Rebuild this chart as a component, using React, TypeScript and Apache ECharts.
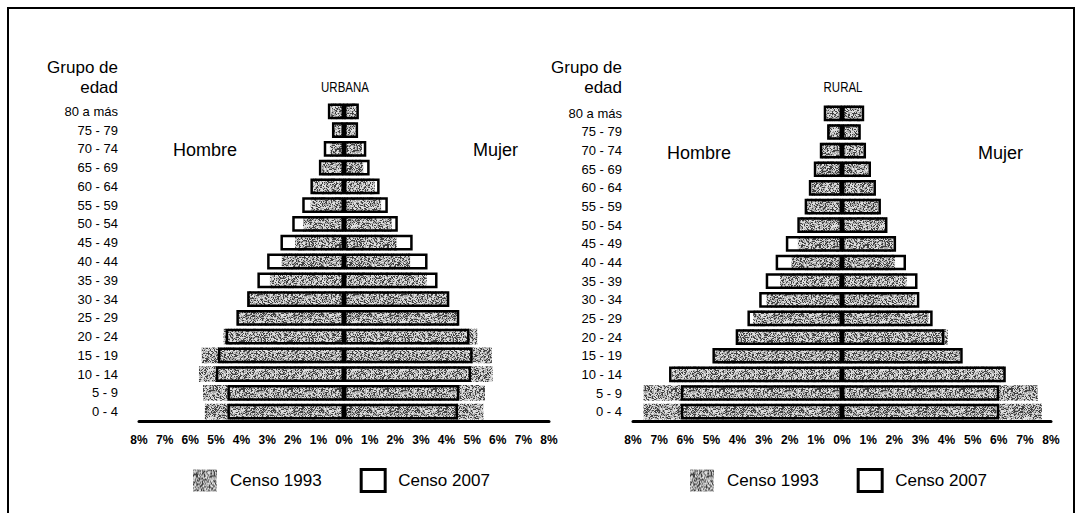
import React, { useEffect, useRef } from "react";
import * as echarts from "echarts";

const categories = ["0 - 4", "5 - 9", "10 - 14", "15 - 19", "20 - 24", "25 - 29", "30 - 34", "35 - 39", "40 - 44", "45 - 49", "50 - 54", "55 - 59", "60 - 64", "65 - 69", "70 - 74", "75 - 79", "80 a más"];

// Urbana (percent of population), bottom (0-4) to top (80+)
const urbanMale1993 = [5.43, 5.5, 5.66, 5.55, 4.7, 4.15, 3.75, 2.89, 2.43, 1.91, 1.6, 1.3, 1.2, 0.85, 0.55, 0.45, 0.5];
const urbanFemale1993 = [5.44, 5.5, 5.8, 5.77, 5.2, 4.45, 4.05, 3.23, 2.58, 2.06, 1.86, 1.45, 1.2, 0.75, 0.7, 0.45, 0.5];
const urbanMale2007 = [4.55, 4.55, 5.0, 4.92, 4.62, 4.2, 3.78, 3.38, 3.0, 2.48, 2.02, 1.63, 1.31, 0.98, 0.79, 0.47, 0.63];
const urbanFemale2007 = [4.45, 4.5, 4.96, 5.02, 4.9, 4.5, 4.11, 3.65, 3.26, 2.68, 2.1, 1.71, 1.39, 1.0, 0.87, 0.55, 0.58];

// Rural
const ruralMale1993 = [7.6, 7.6, 6.5, 4.87, 4.03, 3.4, 2.89, 2.37, 1.93, 1.69, 1.61, 1.35, 1.16, 0.97, 0.78, 0.5, 0.6];
const ruralFemale1993 = [7.65, 7.5, 6.2, 4.52, 4.05, 3.31, 2.8, 2.48, 2.03, 1.97, 1.71, 1.39, 1.2, 1.01, 0.82, 0.65, 0.75];
const ruralMale2007 = [6.17, 6.17, 6.62, 4.96, 4.07, 3.62, 3.17, 2.92, 2.54, 2.15, 1.71, 1.43, 1.27, 1.08, 0.85, 0.57, 0.7];
const ruralFemale2007 = [6.02, 6.02, 6.27, 4.62, 3.92, 3.47, 2.96, 2.89, 2.45, 2.07, 1.74, 1.49, 1.3, 1.11, 0.92, 0.72, 0.85];

const xTicks = { min: -8, max: 8, interval: 1 };

const FONT = "'Liberation Sans', Arial, Helvetica, sans-serif";

function hash(x: number, y: number) {
  let n = Math.imul(x, 374761393) + Math.imul(y, 668265263);
  n = Math.imul(n ^ (n >>> 13), 1274126177);
  n = n ^ (n >>> 16);
  return (n >>> 0) / 4294967296;
}

function makePattern() {
  const c = document.createElement("canvas");
  const s = 48;
  c.width = s;
  c.height = s;
  const ctx = c.getContext("2d");
  if (!ctx) return "#929292";
  const img = ctx.createImageData(s, s);
  for (let y = 0; y < s; y++) {
    for (let x = 0; x < s; x++) {
      const h = hash(x, y);
      const v = h < 0.3 ? 65 : h < 0.66 ? 168 : 222;
      const i = (y * s + x) * 4;
      img.data[i] = v;
      img.data[i + 1] = v;
      img.data[i + 2] = v;
      img.data[i + 3] = 255;
    }
  }
  ctx.putImageData(img, 0, 0);
  return { image: c, repeat: "repeat" } as any;
}

export default function App() {
  const ref = useRef<HTMLDivElement>(null);
  useEffect(() => {
    if (!ref.current) return;
    const chart = echarts.init(ref.current, undefined, { renderer: "svg" });
    const pattern = makePattern();
    const neg = (a: number[]) => a.map((v) => -v);

    const grids = [
      { left: 139, top: 102, width: 410, height: 319 },
      { left: 633, top: 104, width: 418, height: 317 },
    ];
    const labelMargins = [21, 11];

    const xAxis = grids.map((_, i) => ({
      type: "value",
      gridIndex: i,
      ...xTicks,
      axisLine: { show: true, onZero: false, lineStyle: { color: "#000", width: 3 } },
      axisTick: { show: false },
      splitLine: { show: false },
      axisLabel: {
        formatter: (v: number) => Math.abs(v) + "%",
        color: "#000",
        fontSize: 12,
        fontWeight: "bold",
        fontFamily: FONT,
        margin: 13,
      },
    }));
    const yAxis = grids.map((_, i) => ({
      type: "category",
      gridIndex: i,
      data: categories,
      axisLine: { show: false },
      axisTick: { show: false },
      splitLine: { show: false },
      axisLabel: { color: "#000", fontSize: 13, fontFamily: FONT, margin: labelMargins[i] },
    }));

    const outline = { color: "rgba(0,0,0,0)", borderColor: "#000", borderWidth: 2.5 };
    const mk = (i: number, name: string, data: number[], style: any) => ({
      type: "bar",
      name,
      xAxisIndex: i,
      yAxisIndex: i,
      data,
      barGap: "-100%",
      barCategoryGap: "16%",
      itemStyle: style,
      emphasis: { disabled: true },
    });
    const series = [
      mk(0, "Censo 1993", neg(urbanMale1993), { color: pattern }),
      mk(0, "Censo 1993", urbanFemale1993, { color: pattern }),
      mk(0, "Censo 2007", neg(urbanMale2007), outline),
      mk(0, "Censo 2007", urbanFemale2007, outline),
      mk(1, "Censo 1993", neg(ruralMale1993), { color: pattern }),
      mk(1, "Censo 1993", ruralFemale1993, { color: pattern }),
      mk(1, "Censo 2007", neg(ruralMale2007), outline),
      mk(1, "Censo 2007", ruralFemale2007, outline),
    ];

    const legendBase = (left: number) => ({
      left,
      top: 468,
      padding: 0,
      orient: "horizontal",
      itemWidth: 24,
      itemHeight: 22,
      itemGap: 38,
      selectedMode: false,
      icon: "rect",
      textStyle: { fontSize: 17, color: "#000", fontFamily: FONT, padding: [0, 0, 0, 8] },
      data: [
        { name: "Censo 1993", itemStyle: { color: pattern, borderWidth: 0 } },
        { name: "Censo 2007", itemStyle: { color: "#fff", borderColor: "#000", borderWidth: 3 } },
      ],
    });

    const txt = (text: string, x: number, y: number, align: string, fontSize: number, extra: any = {}) => ({
      type: "text",
      x,
      y,
      ...extra,
      style: { text, fill: "#000", fontSize, fontFamily: FONT, align, verticalAlign: "middle" },
    });

    chart.setOption({
      animation: false,
      backgroundColor: "#fff",
      grid: grids,
      xAxis,
      yAxis,
      series,
      legend: [legendBase(193), legendBase(690)],
      graphic: [
        { type: "rect", shape: { x: 8, y: 8, width: 1066, height: 530 }, style: { fill: "none", stroke: "#000", lineWidth: 2 } },
        txt("Grupo de", 118, 67, "right", 17),
        txt("edad", 118, 87, "right", 17),
        txt("URBANA", 345, 87, "center", 14, { scaleX: 0.82 }),
        txt("Hombre", 173, 150, "left", 18),
        txt("Mujer", 473, 150, "left", 18),
        txt("Grupo de", 622, 67, "right", 17),
        txt("edad", 622, 87, "right", 17),
        txt("RURAL", 843, 87, "center", 14, { scaleX: 0.82 }),
        txt("Hombre", 667, 153, "left", 18),
        txt("Mujer", 978, 153, "left", 18),
      ],
    });
    return () => chart.dispose();
  }, []);
  return (
    <div
      ref={ref}
      style={{ position: "absolute", left: 0, top: 0, width: 1082, height: 513, background: "#fff" }}
    />
  );
}
